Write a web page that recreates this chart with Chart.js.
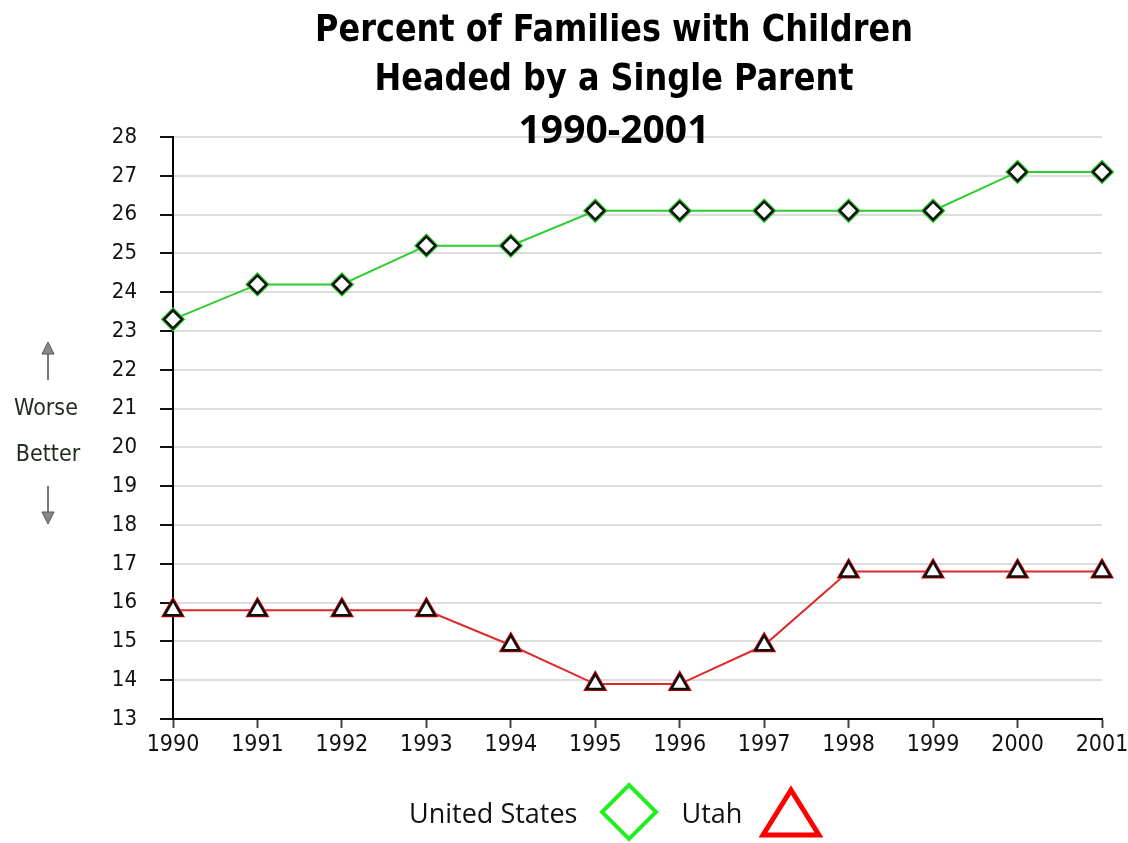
<!DOCTYPE html>
<html>
<head>
<meta charset="utf-8">
<script src="https://cdn.jsdelivr.net/npm/chart.js@4/dist/chart.umd.min.js"></script>
<style>
  html, body { margin: 0; padding: 0; background: #fff; overflow: hidden; }
  #wrap { position: relative; width: 1128px; height: 843px; }
  .title { position: absolute; left: 64px; width: 1100px; text-align: center; color: #000; white-space: nowrap; }
  .t1 { font: bold 38px "DejaVu Sans Condensed", sans-serif; line-height: 38px; transform: scaleX(0.935); }
  .t3 { font: bold 39px "Noto Sans", sans-serif; line-height: 39px; }
  #side { position: absolute; left: 0; top: 340px; width: 96px; text-align: center; color: #1e2b1e;
          font: 23px "DejaVu Sans Condensed", "DejaVu Sans", sans-serif; }
  #legend { position: absolute; left: 409px; top: 782px; font: 27px "Open Sans", sans-serif; color: #111; white-space: nowrap; }
  #legend span, #legend svg { vertical-align: middle; }
</style>
</head>
<body>
<div id="wrap">
  <canvas id="chart" width="1128" height="843"></canvas>
  <div class="title t1" style="top:9px">Percent of Families with Children</div>
  <div class="title t1" style="top:58px">Headed by a Single Parent</div>
  <div class="title t3" style="top:108px">1990-2001</div>
  <div id="side">
    <svg width="20" height="42" style="display:block;margin:0 auto 0 38px"><path d="M10 40 L10 12" stroke="#777" stroke-width="2"/><path d="M4 14 L10 2 L16 14 Z" fill="#888" stroke="#555"/></svg>
    <div style="margin-left:-4px;margin-top:12px">Worse</div>
    <div style="margin-top:20px">Better</div>
    <svg width="20" height="42" style="display:block;margin:18px auto 0 38px"><path d="M10 2 L10 30" stroke="#777" stroke-width="2"/><path d="M4 28 L10 40 L16 28 Z" fill="#888" stroke="#555"/></svg>
  </div>
  <div id="legend">
    <span>United States</span>
    <svg width="62" height="60" style="margin-left:14px"><path d="M31 3 L58 30 L31 57 L4 30 Z" fill="none" stroke="#22ee22" stroke-width="4"/></svg>
    <span style="margin-left:14px">Utah</span>
    <svg width="64" height="54" style="margin-left:10px"><path d="M32 5 L60 50 L4 50 Z" fill="none" stroke="#ff0000" stroke-width="5"/></svg>
  </div>
</div>
<script>
var years = ['1990', '1991', '1992', '1993', '1994', '1995', '1996', '1997', '1998', '1999', '2000', '2001'];
var unitedStates = [23.3, 24.2, 24.2, 25.2, 25.2, 26.1, 26.1, 26.1, 26.1, 26.1, 27.1, 27.1];
var utah = [15.8, 15.8, 15.8, 15.8, 14.9, 13.9, 13.9, 14.9, 16.8, 16.8, 16.8, 16.8];
var yMin = 13;
var yMax = 28;

var ctx = document.getElementById('chart').getContext('2d');
var chart = new Chart(ctx, {
    type: 'line',
    data: {
        labels: years,
        datasets: [{
            label: 'United States',
            data: unitedStates,
            borderColor: '#2ecc2e',
            borderWidth: 2,
            pointStyle: 'rectRot',
            pointRadius: 9,
            pointBackgroundColor: '#fff',
            pointBorderColor: '#111',
            pointBorderWidth: 2.5,
            tension: 0,
            clip: false
        }, {
            label: 'Utah',
            data: utah,
            borderColor: '#dd2a2a',
            borderWidth: 2,
            pointStyle: 'triangle',
            pointRadius: 10,
            pointBackgroundColor: '#fff',
            pointBorderColor: '#111',
            pointBorderWidth: 2.5,
            tension: 0,
            clip: false
        }, {
            // coloured outline behind the markers
            label: 'us-halo',
            data: unitedStates,
            showLine: false,
            pointStyle: 'rectRot',
            pointRadius: 11,
            pointBackgroundColor: '#22cc22',
            pointBorderColor: '#22cc22',
            pointBorderWidth: 2,
            clip: false
        }, {
            label: 'utah-halo',
            data: utah,
            showLine: false,
            pointStyle: 'triangle',
            pointRadius: 12,
            pointBackgroundColor: '#ee0000',
            pointBorderColor: '#ee0000',
            pointBorderWidth: 2,
            clip: false
        }]
    },
    options: {
        responsive: false,
        animation: false,
        layout: { padding: { left: 0, right: 26, top: 137, bottom: 74 } },
        plugins: {
            legend: { display: false },
            title: { display: false },
            tooltip: { enabled: false }
        },
        scales: {
            x: {
                offset: false,
                afterFit: function(scale) {
                    scale.height = 50;
                    scale.paddingLeft = 0;
                    scale.paddingRight = 0;
                },
                grid: { drawOnChartArea: false, drawTicks: true, tickLength: 9, tickColor: '#444', tickWidth: 2 },
                border: { color: '#000', width: 2 },
                ticks: {
                    color: '#111',
                    padding: 3,
                    maxRotation: 0,
                    autoSkip: false,
                    font: { family: '"DejaVu Sans Condensed", "DejaVu Sans"', size: 23 }
                }
            },
            y: {
                min: yMin,
                max: yMax,
                afterFit: function(scale) { scale.width = 173; },
                grid: { color: '#dddddd', lineWidth: 2, tickLength: 13, tickColor: '#111', tickWidth: 2 },
                border: { color: '#000', width: 2 },
                ticks: {
                    stepSize: 1,
                    color: '#111',
                    padding: 23,
                    font: { family: '"DejaVu Sans Condensed", "DejaVu Sans"', size: 22 }
                }
            }
        }
    }
});
</script>
</body>
</html>
